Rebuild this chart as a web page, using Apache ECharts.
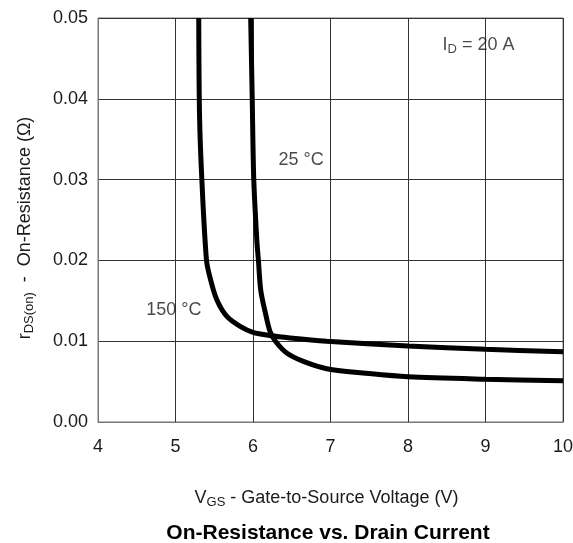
<!DOCTYPE html>
<html><head><meta charset="utf-8">
<script src="https://cdn.jsdelivr.net/npm/echarts@6/dist/echarts.min.js"></script>
<style>html,body{margin:0;padding:0;background:#fff}#c{width:573px;height:543px}</style>
</head><body><div id="c"></div>
<script>
const xTicks = [4,5,6,7,8,9,10];
const yTicks = [0.00,0.01,0.02,0.03,0.04,0.05];
const vgs25 = [5.97,5.99,6.01,6.05,6.07,6.10,6.16,6.22,6.29,6.44,6.65,6.95,7.5,8,9,10];
const r25   = [0.050,0.040,0.030,0.0224,0.020,0.0163,0.0135,0.0112,0.0100,0.0085,0.0075,0.0066,0.0060,0.0056,0.0053,0.0051];
const vgs150 = [5.30,5.31,5.34,5.40,5.45,5.53,5.66,5.84,6.00,6.22,6.48,6.95,8,9,10];
const r150   = [0.050,0.038,0.030,0.020,0.0177,0.0152,0.0131,0.0118,0.0111,0.0107,0.0104,0.0100,0.0094,0.0090,0.0087];
const labels = [
  {pos:[6.62,0.0324], text:'{m|25 °C}'},
  {pos:[4.98,0.0139], text:'{m|150 °C}'},
  {pos:[8.91,0.0467], text:'{m|I}{s|D}{m| = 20 A}'}
];
const font = 'Liberation Sans, Arial, Helvetica, sans-serif';
const rich = {
  m:{fontFamily:font,fontSize:18,color:'#1a1a1a',lineHeight:22,verticalAlign:'middle'},
  s:{fontFamily:font,fontSize:13,color:'#1a1a1a',lineHeight:13,verticalAlign:'bottom'}
};
const zip = (a,b)=>a.map((v,i)=>[v,b[i]]);
const chart = echarts.init(document.getElementById('c'));
chart.setOption({
  animation:false,
  title:{text:'On-Resistance vs. Drain Current', left:323, textAlign:'center', top:518,
    textStyle:{fontFamily:font,fontSize:21,fontWeight:'bold',color:'#000'}},
  grid:{left:98, right:10, top:18, bottom:121, show:true, borderColor:'#777', borderWidth:1,
    outerBoundsMode:'none', containLabel:false},
  xAxis:{type:'value', min:4, max:10, interval:1,
    axisLine:{lineStyle:{color:'#777'}}, axisTick:{show:false},
    splitLine:{lineStyle:{color:'#333',width:1}},
    axisLabel:{fontFamily:font,fontSize:18,color:'#1a1a1a',margin:16,
      formatter:v=>xTicks.includes(v)?String(v):''},
    name:'{m|V}{s|GS}{m| - Gate-to-Source Voltage (V)}', nameLocation:'middle', nameGap:65,
    nameTextStyle:{rich:rich, padding:[0,8,0,0]}
  },
  yAxis:{type:'value', min:0, max:0.05, interval:0.01,
    axisLine:{show:true,lineStyle:{color:'#777'}}, axisTick:{show:false},
    splitLine:{lineStyle:{color:'#333',width:1}},
    axisLabel:{fontFamily:font,fontSize:18,color:'#1a1a1a',margin:10,
      formatter:v=>{const t=yTicks.find(y=>Math.abs(y-v)<1e-9);return t===undefined?'':t.toFixed(2);}},
    name:'{m|r}{s|DS(on)}{m|  -  On-Resistance (Ω)}', nameLocation:'middle', nameGap:62, nameRotate:90,
    nameTextStyle:{rich:rich, padding:[0,16,0,0]}
  },
  series:[
    {type:'line', data:zip(vgs25,r25), smooth:0.3, showSymbol:false, lineStyle:{color:'#000',width:5}},
    {type:'line', data:zip(vgs150,r150), smooth:0.3, showSymbol:false, lineStyle:{color:'#000',width:5}},
    {type:'scatter', symbolSize:0, data:labels.map(l=>({value:l.pos, name:l.text})),
      label:{show:true, position:'inside', formatter:p=>p.name, rich:rich}}
  ]
});
</script></body></html>
